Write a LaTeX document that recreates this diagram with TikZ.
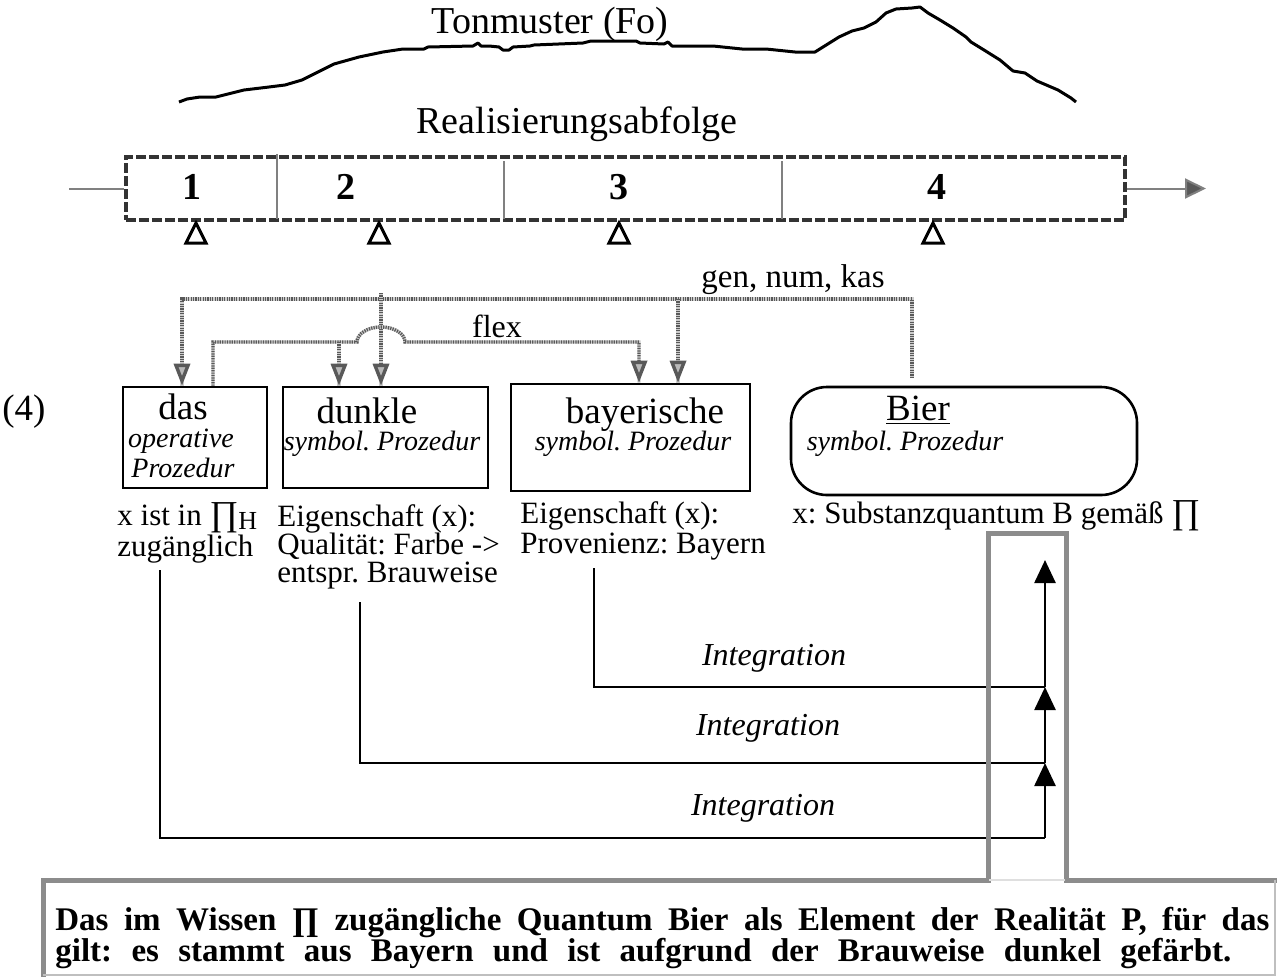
\documentclass[tikz,border=0pt]{standalone}
\usepackage{fontspec}
\setmainfont{Liberation Serif}
\usetikzlibrary{arrows.meta}
\definecolor{framegray}{HTML}{8C8C8C}
\newcommand{\bigprod}{{\fontsize{17.5}{18}\selectfont ∏}}
\frenchspacing

\begin{document}
\begin{tikzpicture}[x=0.5pt,y=-0.5pt]

\tikzset{title/.style = {font=\fontsize{19}{22}\selectfont, anchor=base, inner sep=0pt}}
\tikzset{word/.style = {font=\fontsize{18.5}{20}\selectfont, anchor=base, inner sep=0pt}}
\tikzset{proc/.style = {font=\fontsize{14}{16}\selectfont\itshape, anchor=base, inner sep=0pt}}
\tikzset{gloss/.style = {font=\fontsize{15.5}{16}\selectfont, anchor=base west, inner sep=0pt}}
\tikzset{box/.style = {draw, line width=1.3pt, inner sep=0pt}}
\tikzset{feat/.style = {draw=black!65, line width=1.7pt, dash pattern=on 0.6pt off 0.6pt,
  preaction={draw, gray!40, solid, -, line width=1.7pt}}}
\tikzset{featarrow/.style = {feat, -{Triangle[length=11pt,width=8pt,fill=gray!55]}}}
\tikzset{integ/.style = {line width=1.3pt}}
\tikzset{integarrow/.style = {integ, -{Triangle[length=11.5pt,width=10.5pt]}}}

\useasboundingbox (0,0) rectangle (1278,976);

% Tonmuster
\node[title] (tone) at (550,33) {Tonmuster (Fo)};
\draw[line width=1.5pt, line join=round] plot coordinates {(179,102) (187,99) (200,97) (216,97)
  (244,90) (269,87) (285,85) (302,80) (310,76) (326,68) (334,64) (359,57) (383,52) (403,49)
  (424,49) (428,47) (473,46) (478,43) (481,46) (489,46) (499,47) (503,50) (509,50) (513,47)
  (530,46) (534,45) (583,43) (591,41) (636,41) (640,43) (664,44) (668,42) (672,46) (681,46)
  (713,46) (742,49) (766,49) (795,52) (815,52) (823,47) (839,37) (852,31) (864,28) (876,22)
  (886,13) (896,9) (912,8) (920,7) (928,13) (940,20) (953,28) (966,37) (971,42) (984,50)
  (1000,60) (1013,71) (1025,73) (1037,81) (1058,90) (1071,98) (1076,102)};

% Realisierungsabfolge
\node[title] (real) at (577,133) {Realisierungsabfolge};
\node[draw=black!80, dash pattern=on 5pt off 1.5pt, line width=1.6pt, inner sep=0pt,
  minimum width=499.5pt, minimum height=31.5pt] (seq) at (625.5,188.5) {};
\foreach \x/\t in {277/154, 504/161, 782/161}
  \draw[gray, line width=0.6pt] (\x,\t) -- (\x,219);
\coordinate (tin) at (69,188.5);
\coordinate (tout) at (1206,188.5);
\draw[gray, line width=1pt] (tin) -- (seq);
\draw[gray, line width=1pt, -{Triangle[length=10.5pt,width=10pt,fill=black!65]}] (seq) -- (tout);
\foreach \x/\n in {192/1, 346/2, 619/3, 937/4}
  \node[word, font=\fontsize{19}{20}\selectfont\bfseries] (n\n) at (\x,199) {\n};
\foreach \x in {196,379,619,933}
  \draw[line width=1.5pt] (\x,223) -- ++(-10,20) -- ++(20,0) -- cycle;

% Ausdruck
\node[word, anchor=base west] (ex) at (2,420) {(4)};
\node[box, minimum width=72pt, minimum height=50.5pt] (das) at (195,437.5) {};
\node[box, minimum width=102.5pt, minimum height=50.5pt] (dunkle) at (385.5,437.5) {};
\node[box, minimum width=119.5pt, minimum height=53.5pt] (bayer) at (630.5,437.5) {};
\node[box, rounded corners=18pt, minimum width=173pt, minimum height=54pt] (bier) at (964,441) {};

\node[word] (w-das) at (183,419) {das};
\node[proc] (p-das1) at (181,447) {operative};
\node[proc] (p-das2) at (183,477) {Prozedur};
\node[word] (w-dunkle) at (367,423) {dunkle};
\node[proc] (p-dunkle) at (382,450) {symbol. Prozedur};
\node[word] (w-bayer) at (645,423) {bayerische};
\node[proc] (p-bayer) at (633,450) {symbol. Prozedur};
\node[word] (w-bier) at (918,420) {\underline{Bier}};
\node[proc] (p-bier) at (905,450) {symbol. Prozedur};

% gen, num, kas und flex
\coordinate (g0) at (912,378);
\coordinate (g1) at (182,299);
\coordinate (g2) at (381,293);
\coordinate (g3) at (678,299);
\draw[featarrow] (g0) |- (g1) -- (g1 |- das.north);
\draw[featarrow] (g2) -- (g2 |- dunkle.north);
\draw[featarrow] (g3) -- (g3 |- bayer.north);
\node[gloss, font=\fontsize{16.5}{18}\selectfont, anchor=base] (gnk) at (793,287) {gen, num, kas};

\coordinate (f0) at (213,342);
\coordinate (f1) at (639,342);
\coordinate (f2) at (339,342);
\draw[featarrow] (f0 |- das.north) -- (f0) -- (357,342)
  arc[start angle=180, end angle=360, x radius=24, y radius=15] -- (f1) -- (f1 |- bayer.north);
\draw[featarrow] (f2) -- (f2 |- dunkle.north);
\node[gloss, font=\fontsize{16}{18}\selectfont, anchor=base] (flex) at (497,337) {flex};

% Eigenschaften
\foreach \y/\t [count=\i] in {525/{x ist in \bigprod\raisebox{-2pt}{\fontsize{13}{13}\selectfont H}}, 556/zugänglich}
  \node[gloss] (l1-\i) at (117,\y) {\t};
\foreach \y/\t [count=\i] in {526/{Eigenschaft (x):}, 554/{Qualität: Farbe ->}, 582/{entspr. Brauweise}}
  \node[gloss] (l2-\i) at (277,\y) {\t};
\foreach \y/\t [count=\i] in {523/{Eigenschaft (x):}, 553/{Provenienz: Bayern}}
  \node[gloss] (l3-\i) at (520,\y) {\t};
\node[gloss] (l4-1) at (792,523) {x: Substanzquantum B gemäß \bigprod};

% Integration
\coordinate (a1) at (160,570);
\coordinate (a2) at (360,602);
\coordinate (a3) at (594,568);
\coordinate (i1) at (1045,838);
\coordinate (i2) at (1045,763);
\coordinate (i3) at (1045,687);
\coordinate (i4) at (1045,560);
\draw[integ] (a1) |- (i1);
\draw[integ] (a2) |- (i2);
\draw[integ] (a3) |- (i3);
\draw[integarrow] (i1) -- (i2);
\draw[integarrow] (i2) -- (i3);
\draw[integarrow] (i3) -- (i4);
\foreach \x/\y [count=\i] in {774/665, 768/735, 763/815}
  \node[proc, font=\fontsize{16}{18}\selectfont\itshape] (int\i) at (\x,\y) {Integration};

% Ergebnis
\draw[framegray, line width=2.5pt] (43,980) -- (43,880) -- (988,880) -- (988,533)
  -- (1066,533) -- (1066,880) -- (1277,880);
\draw[gray!50, line width=1pt] (1275,880) -- (1275,975) -- (43,975);
\draw[gray!25, line width=1pt] (989,880) -- (1065,880);
\node[gloss, font=\fontsize{16.5}{18}\selectfont\bfseries] (sum1) at (55,930)
  {\makebox[607pt][s]{Das im Wissen ∏ zugängliche Quantum Bier als Element der Realität P, für das}};
\node[gloss, font=\fontsize{16.5}{18}\selectfont\bfseries] (sum2) at (55,961)
  {\makebox[588pt][s]{gilt: es stammt aus Bayern und ist aufgrund der Brauweise dunkel gefärbt.}};
\end{tikzpicture}
\end{document}
